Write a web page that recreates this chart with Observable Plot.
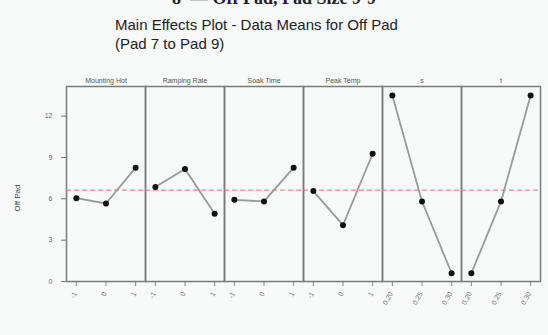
<!DOCTYPE html>
<html>
<head>
<meta charset="utf-8">
<script src="https://cdn.jsdelivr.net/npm/d3@7"></script>
<script src="https://cdn.jsdelivr.net/npm/@observablehq/plot@0.6"></script>
<style>
  html, body { margin: 0; padding: 0; background: #f8f9f9; }
  body { width: 548px; height: 335px; position: relative; overflow: hidden; font-family: "Liberation Sans", Arial, sans-serif; }
  #cut { position: absolute; left: 0; width: 548px; top: -12px; text-align: center; font-family: "Liberation Serif", "Times New Roman", serif; font-weight: bold; font-size: 18px; color: #222; white-space: nowrap; }
  #title { position: absolute; left: 115px; top: 15px; font-size: 15px; line-height: 19px; color: #222; }
  #chart { position: absolute; left: 0; top: 62px; }
  #ylab { position: absolute; left: 17px; top: 198px; transform: translate(-50%, -50%) rotate(-90deg); font-size: 8px; color: #444; white-space: nowrap; }
  text { -webkit-font-smoothing: antialiased; }
</style>
</head>
<body>
<div id="cut">8 &nbsp;— Off Pad, Pad Size 9-9</div>
<div id="title">Main Effects Plot - Data Means for Off Pad<br>(Pad 7 to Pad 9)</div>
<div id="chart"></div>
<div id="ylab">Off Pad</div>
<script>
const factors = ["Mounting Hot", "Ramping Rate", "Soak Time", "Peak Temp", "s", "t"];
const levelLabels = [
  ["-1", "0", "1"],
  ["-1", "0", "1"],
  ["-1", "0", "1"],
  ["-1", "0", "1"],
  ["0.20", "0.25", "0.30"],
  ["0.20", "0.25", "0.30"]
];
const meanValues = [
  [6.05, 5.66, 8.26],
  [6.85, 8.16, 4.92],
  [5.93, 5.81, 8.26],
  [6.56, 4.09, 9.27],
  [13.5, 5.81, 0.6],
  [0.6, 5.81, 13.5]
];
const grandMean = 6.63;
const yTicks = [0, 3, 6, 9, 12];

const rows = [];
factors.forEach((f, i) => {
  meanValues[i].forEach((v, j) => {
    rows.push({factor: f, level: j, label: levelLabels[i][j], value: v});
  });
});

const plot = Plot.plot({
  width: 548,
  height: 273,
  marginLeft: 64,
  marginRight: 6,
  marginTop: 24,
  marginBottom: 54,
  style: {fontFamily: "Liberation Sans, Arial, sans-serif", fontSize: "7px", color: "#666", background: "transparent"},
  fx: {domain: factors, padding: 0, label: null, axis: null},
  x: {domain: [-0.333, 2.333], label: null, axis: null},
  y: {domain: [0, 14.15], label: null, axis: null},
  marks: [
    Plot.axisFx({anchor: "top", tickSize: 0, tickPadding: 4, fill: "#555", fontSize: 7, label: null}),
    Plot.axisY({ticks: yTicks, tickSize: 5, tickPadding: 9, stroke: "#777", fill: "#666", fontSize: 7, label: null}),
    Plot.axisX({ticks: [0, 1, 2], tickFormat: () => "", tickSize: 5, stroke: "#888", label: null}),
    Plot.frame({stroke: "#7a7a7a", strokeWidth: 1.5}),
    Plot.ruleY([grandMean], {stroke: "#e07070", strokeWidth: 1, strokeDasharray: "5,3"}),
    Plot.line(rows, {fx: "factor", x: "level", y: "value", stroke: "#9a9a9a", strokeWidth: 1.8}),
    Plot.dot(rows, {fx: "factor", x: "level", y: "value", r: 3, fill: "#111", stroke: "none"}),
    Plot.text(rows, {fx: "factor", x: "level", y: () => 0, text: "label", rotate: -60, textAnchor: "end", dy: 11, dx: -1, fontSize: 7, fill: "#777"})
  ]
});
document.getElementById("chart").appendChild(plot);
</script>
</body>
</html>
